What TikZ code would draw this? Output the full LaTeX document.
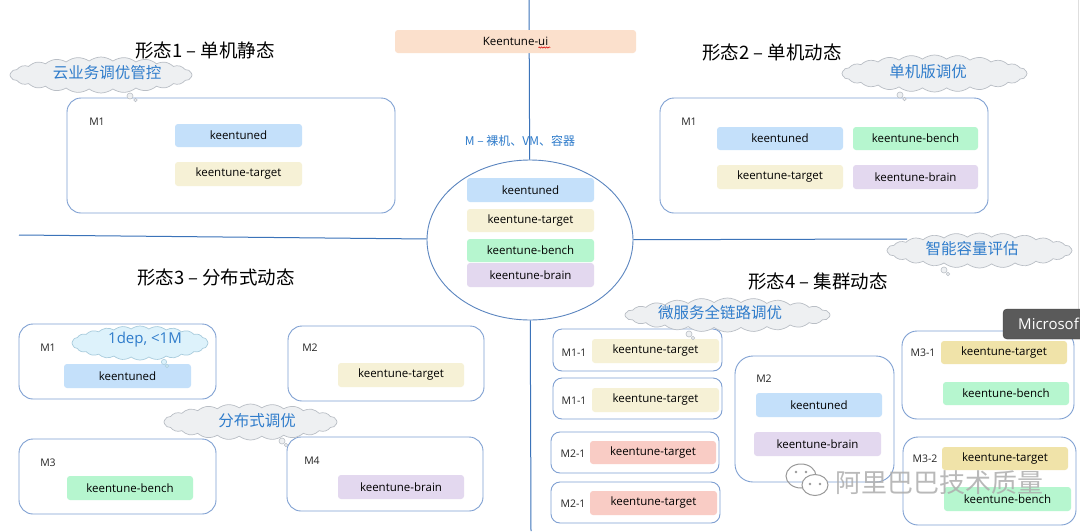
\documentclass[tikz,border=0pt]{standalone}
\usepackage{fontspec}
\setmainfont{Noto Sans CJK SC}
\newfontfamily\latinf{Open Sans}
\usetikzlibrary{shapes.geometric,shapes.symbols,decorations.pathmorphing}
\definecolor{linec}{HTML}{3B73B9}
\definecolor{framec}{HTML}{7FA0D2}
\definecolor{ellc}{HTML}{5C86C0}
\definecolor{cblue}{HTML}{C4E0FA}
\definecolor{cyellow}{HTML}{F6F1D6}
\definecolor{cyellowd}{HTML}{F0E3A9}
\definecolor{cgreen}{HTML}{B6F6CF}
\definecolor{cpurple}{HTML}{E3D8EF}
\definecolor{cpink}{HTML}{F9CCC5}
\definecolor{cpeach}{HTML}{FBE0CC}
\definecolor{cloudfill}{HTML}{EEF0F2}
\definecolor{cloudline}{HTML}{B9BEC5}
\definecolor{cloudcyan}{HTML}{DDF2FB}
\definecolor{cloudcyanl}{HTML}{A9CCDD}
\definecolor{cloudtxt}{HTML}{2F7CCB}
\definecolor{tipc}{HTML}{5A5A5A}
\begin{document}
\begin{tikzpicture}[x=1pt,y=-1pt,
  frame/.style={draw=framec, line width=0.9pt, fill=white, rounded corners=14pt, inner sep=0},
  comp/.style={rounded corners=3pt, inner sep=0, font=\latinf\fontsize{11.5}{13}\selectfont, text=black},
  mlabel/.style={font=\latinf\fontsize{10.5}{12}\selectfont, text=black!85, inner sep=0},
  title/.style={font=\fontsize{18.5}{21}\selectfont, inner sep=0},
  cloudshape/.style={cloud, cloud puffs=24, cloud puff arc=75, cloud ignores aspect, draw=cloudline, fill=cloudfill, line width=0.7pt, inner sep=0},
  cloudtext/.style={font=\fontsize{15.5}{18}\selectfont, text=cloudtxt, inner sep=0},
  tailbub/.style={draw=cloudline, fill=cloudfill, line width=0.6pt},
  conn/.style={draw=linec, line width=1pt}]
\clip (0,0) rectangle (1080,531);
\fill[white] (0,0) rectangle (1080,531);
\draw[black!13, line width=1pt] (1078,0) -- (1078,309);

% ---------- centre ----------
\node[ellipse, draw=ellc, line width=0.9pt, fill=white, minimum width=206pt, minimum height=160pt, inner sep=0] (ell) at (530,240) {};
\coordinate (topend) at (529,0);
\coordinate (botend) at (531,531);
\coordinate (leftend) at (19,235);
\coordinate (rightend) at (907,239);
\draw[conn] (topend) -- (ell);
\draw[conn] (botend) -- (ell);
\draw[conn] (leftend) -- (ell);
\draw[conn] (rightend) -- (ell);

\node[comp, fill=cpeach, minimum width=241pt, minimum height=23pt] (ui) at (515.5,41.5) {};
\node[font=\latinf\fontsize{11.5}{13}\selectfont, inner sep=0] (uitext) at (ui) {Keentune-ui};
\draw[red!85!black, line width=0.5pt, decorate, decoration={snake, amplitude=0.7pt, segment length=2.5pt}]
  ([xshift=-10pt,yshift=-1.5pt]uitext.south east) -- ([xshift=2pt,yshift=-1.5pt]uitext.south east);

\node[font=\fontsize{12}{14}\selectfont, text=cloudtxt, inner sep=0] (mtext) at (520,141) {M – 裸机、VM、容器};
\node[comp, fill=cblue,   minimum width=127pt, minimum height=24pt] (ck) at (530.5,190) {keentuned};
\node[comp, fill=cyellow, minimum width=127pt, minimum height=23pt] (ct) at (530.5,220.5) {keentune-target};
\node[comp, fill=cgreen,  minimum width=127pt, minimum height=23pt] (cb) at (530.5,250.5) {keentune-bench};
\node[comp, fill=cpurple, minimum width=127pt, minimum height=24pt] (cr) at (530.5,275) {keentune-brain};

% ---------- form 1 ----------
\node[title] (t1) at (205,50) {形态1 – 单机静态};
\node[frame, minimum width=328pt, minimum height=115pt] (b1) at (231,155.5) {};
\node[mlabel] (b1m) at (97,122) {M1};
\node[comp, fill=cblue,   minimum width=127pt, minimum height=23pt] (k1) at (238.5,135.5) {keentuned};
\node[comp, fill=cyellow, minimum width=127pt, minimum height=24pt] (tg1) at (238.5,174) {keentune-target};
\node[cloudshape, minimum width=182pt, minimum height=36pt] (c1) at (101,75) {};
\draw[tailbub] (130,96) circle[radius=3pt];
\draw[tailbub] (135.5,100) circle[radius=1.8pt];
\node[cloudtext] (c1t) at (107,73) {云业务调优管控};

% ---------- form 2 ----------
\node[title] (t2) at (772,52) {形态2 – 单机动态};
\node[frame, minimum width=328pt, minimum height=115pt] (b2) at (824,155.5) {};
\node[mlabel] (b2m) at (689,122) {M1};
\node[comp, fill=cblue,   minimum width=126pt, minimum height=23pt] (k2) at (780,138.5) {keentuned};
\node[comp, fill=cgreen,  minimum width=125pt, minimum height=23pt] (bn2) at (915.5,138.5) {keentune-bench};
\node[comp, fill=cyellow, minimum width=126pt, minimum height=24pt] (tg2) at (780,177) {keentune-target};
\node[comp, fill=cpurple, minimum width=125pt, minimum height=24pt] (br2) at (915.5,177) {keentune-brain};
\node[cloudshape, minimum width=185pt, minimum height=37pt] (c2) at (934.5,73.5) {};
\draw[tailbub] (900,95) circle[radius=3pt];
\draw[tailbub] (904.5,99) circle[radius=1.8pt];
\node[cloudtext] (c2t) at (928,72) {单机版调优};

% ---------- form 3 ----------
\node[title] (t3) at (216,277) {形态3 – 分布式动态};
\node[frame, minimum width=197pt, minimum height=75pt] (b31) at (117.5,361.5) {};
\node[mlabel] (b31m) at (48,348) {M1};
\node[comp, fill=cblue, minimum width=127pt, minimum height=24pt] (k31) at (127.5,376) {keentuned};
\node[frame, minimum width=196pt, minimum height=75pt] (b32) at (386,363.5) {};
\node[mlabel] (b32m) at (310,348) {M2};
\node[comp, fill=cyellow, minimum width=126pt, minimum height=24pt] (tg32) at (401,375) {keentune-target};
\node[frame, minimum width=197pt, minimum height=75pt] (b33) at (117.5,476.5) {};
\node[mlabel] (b33m) at (48,463) {M3};
\node[comp, fill=cgreen, minimum width=126pt, minimum height=24pt] (bn33) at (130,488) {keentune-bench};
\node[frame, minimum width=196pt, minimum height=74pt] (b34) at (385,474) {};
\node[mlabel] (b34m) at (312,461) {M4};
\node[comp, fill=cpurple, minimum width=126pt, minimum height=24pt] (br34) at (401,487) {keentune-brain};
\node[cloudshape, fill=cloudcyan, draw=cloudcyanl, minimum width=136pt, minimum height=34pt] (c31) at (140,343) {};
\draw[tailbub, fill=cloudcyan, draw=cloudcyanl] (164,362) circle[radius=2.6pt];
\draw[tailbub, fill=cloudcyan, draw=cloudcyanl] (167,366) circle[radius=1.6pt];
\node[cloudtext, font=\latinf\fontsize{15}{18}\selectfont] (c31t) at (145,340) {1dep, <1M};
\node[cloudshape, minimum width=173pt, minimum height=36pt] (c32) at (250.5,422) {};
\draw[tailbub] (282,441) circle[radius=3pt];
\draw[tailbub] (286,445) circle[radius=1.8pt];
\node[cloudtext] (c32t) at (257,421) {分布式调优};

% ---------- form 4 ----------
\node[cloudshape, minimum width=185pt, minimum height=35pt] (c41) at (979.5,250.5) {};
\draw[tailbub] (944,270) circle[radius=3pt];
\draw[tailbub] (948,274) circle[radius=1.8pt];
\node[cloudtext] (c41t) at (972,249) {智能容量评估};
\node[title] (t4) at (818,281) {形态4 – 集群动态};

\node[frame, rounded corners=9pt, minimum width=169pt, minimum height=42pt] (b41) at (637.5,350) {};
\node[mlabel] (b41m) at (574,353) {M1-1};
\node[comp, fill=cyellow, minimum width=127pt, minimum height=24pt] (tg41) at (655.5,351) {keentune-target};
\node[frame, rounded corners=9pt, minimum width=169pt, minimum height=41pt] (b42) at (637.5,398.5) {};
\node[mlabel] (b42m) at (574,401) {M1-1};
\node[comp, fill=cyellow, minimum width=127pt, minimum height=24pt] (tg42) at (655.5,400) {keentune-target};
\node[frame, rounded corners=9pt, minimum width=168pt, minimum height=41pt] (b43) at (635,452.5) {};
\node[mlabel] (b43m) at (573,454) {M2-1};
\node[comp, fill=cpink, minimum width=126pt, minimum height=23pt] (tg43) at (653,452.5) {keentune-target};
\node[frame, rounded corners=9pt, minimum width=169pt, minimum height=41pt] (b44) at (635.5,502.5) {};
\node[mlabel] (b44m) at (573,504) {M2-1};
\node[comp, fill=cpink, minimum width=127pt, minimum height=24pt] (tg44) at (653.5,503) {keentune-target};

\node[frame, rounded corners=18pt, minimum width=159pt, minimum height=126pt] (b45) at (814.5,419) {};
\node[mlabel] (b45m) at (764,379) {M2};
\node[comp, fill=cblue, minimum width=126pt, minimum height=24pt] (k45) at (819,405) {keentuned};
\node[comp, fill=cpurple, minimum width=127pt, minimum height=24pt] (br45) at (817.5,444) {keentune-brain};

\node[frame, rounded corners=15pt, minimum width=172pt, minimum height=88pt] (b46) at (988,375) {};
\node[mlabel] (b46m) at (923,353) {M3-1};
\node[comp, fill=cyellowd, minimum width=126pt, minimum height=23pt] (tg46) at (1004,352.5) {keentune-target};
\node[comp, fill=cgreen, minimum width=126pt, minimum height=23pt] (bn46) at (1006,393.5) {keentune-bench};
\node[frame, rounded corners=15pt, minimum width=173pt, minimum height=88pt] (b47) at (989.5,481) {};
\node[mlabel] (b47m) at (925,459) {M3-2};
\node[comp, fill=cyellowd, minimum width=126pt, minimum height=23pt] (tg47) at (1005,458.5) {keentune-target};
\node[comp, fill=cgreen, minimum width=127pt, minimum height=24pt] (bn47) at (1007.5,499) {keentune-bench};

\node[cloudshape, minimum width=205pt, minimum height=34pt] (c42) at (727.5,315) {};
\draw[tailbub] (689,334) circle[radius=3pt];
\draw[tailbub] (693,338) circle[radius=1.8pt];
\node[cloudtext] (c42t) at (720,313) {微服务全链路调优};

% tooltip
\node[draw=black!75, fill=tipc, rounded corners=4pt, minimum width=95pt, minimum height=30pt, inner sep=0] (tip) at (1050.5,324) {};
\node[anchor=west, text=white, font=\latinf\fontsize{15}{17}\selectfont, inner sep=0] (tipt) at (1018,324) {Microsof};

% watermark
\begin{scope}[draw=black!40, line width=1pt, fill=white]
\draw (801,476) ellipse[x radius=15pt, y radius=12pt];
\filldraw (815,485) ellipse[x radius=13pt, y radius=10.5pt];
\fill[black!40] (796,472) circle[radius=1.3pt] (806,472) circle[radius=1.3pt];
\fill[black!40] (810,484) circle[radius=1.3pt] (820,484) circle[radius=1.3pt];
\end{scope}
\node[text=black!32, font=\fontsize{26}{28}\selectfont, inner sep=0, opacity=0.85] (wm) at (939,483) {阿里巴巴技术质量};
\end{tikzpicture}
\end{document}
